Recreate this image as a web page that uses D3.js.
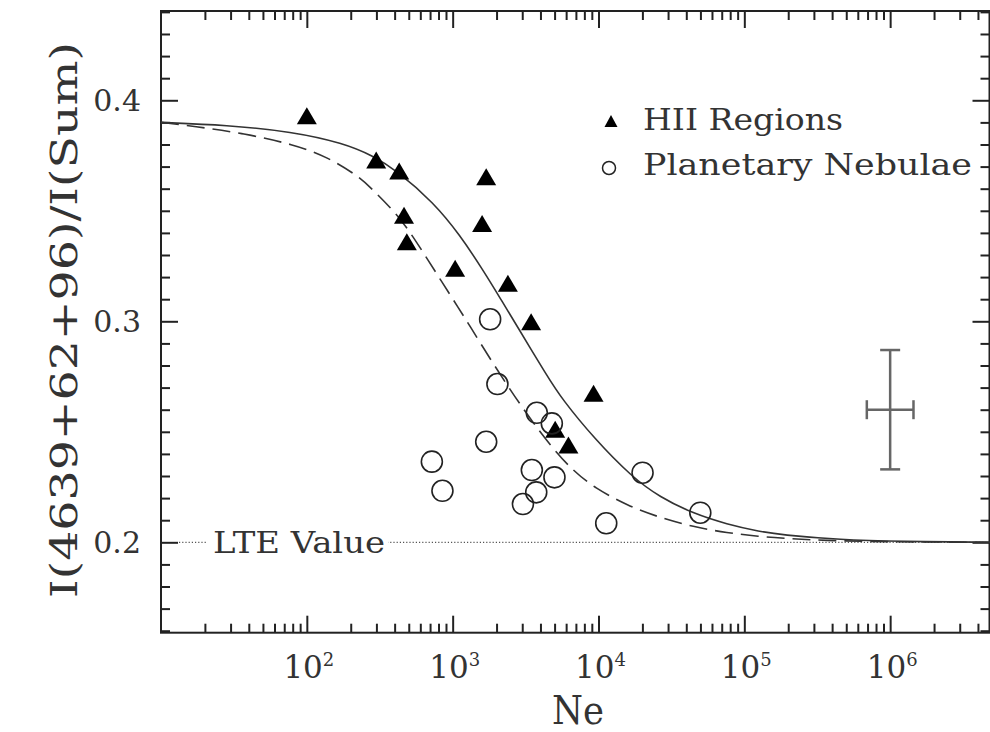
<!DOCTYPE html>
<html><head><meta charset="utf-8">
<script src="https://cdn.jsdelivr.net/npm/d3@7/dist/d3.min.js"></script>
<style>
body{margin:0;background:#fff;}
svg{display:block;}
text{font-family:"DejaVu Serif",serif;fill:#333;}
</style>
</head><body>
<svg id="chart" width="990" height="732"></svg>
<script>
// ---- data ----
const hiiNe  = [100, 299, 430, 1698, 464, 1592, 485, 1040, 2392, 3451, 9250, 5047, 6220];
const hiiVal = [0.393, 0.373, 0.368, 0.3654, 0.348, 0.3442, 0.336, 0.324, 0.3172, 0.2998, 0.2674, 0.2511, 0.244];

const pnNe  = [1807, 2027, 3776, 4786, 1698, 720, 851, 3491, 4989, 3742, 3033, 20050, 11300, 49900];
const pnVal = [0.3009, 0.2716, 0.2586, 0.2538, 0.2455, 0.2365, 0.2233, 0.2327, 0.2294, 0.2226, 0.2173, 0.2315, 0.2086, 0.2134];

const solidNe  = [10, 28.2, 79.4, 178, 282, 417, 741, 1122, 1622, 2138, 2754, 4467, 5623, 9333, 16980, 26300, 44670, 75860, 128800, 177800, 457100, 1175000, 4800000];
const solidVal = [0.3900, 0.3888, 0.3858, 0.3806, 0.3750, 0.3680, 0.3537, 0.3390, 0.3230, 0.3100, 0.2980, 0.2750, 0.2648, 0.2470, 0.2295, 0.2205, 0.2130, 0.2082, 0.2048, 0.2034, 0.2011, 0.2004, 0.2000];

const dashNe  = [10, 16.6, 37.2, 81.3, 138, 234, 288, 437, 603, 813, 1122, 1259, 1905, 3090, 4898, 6761, 9333, 15850, 26300, 44670, 75860, 128800, 177800, 346700, 1000000, 4800000];
const dashVal = [0.3900, 0.3883, 0.3850, 0.3800, 0.3745, 0.3650, 0.3590, 0.3470, 0.3330, 0.3195, 0.3050, 0.2998, 0.2805, 0.2595, 0.2420, 0.2322, 0.2248, 0.2165, 0.2112, 0.2070, 0.2043, 0.2026, 0.2019, 0.2008, 0.2002, 0.2000];

const lteValue = 0.2;
const errNe = 1e6, errVal = 0.26, errDy = 0.027, errDlog = 0.16;

const xMajorTicks = [100, 1e3, 1e4, 1e5, 1e6];
const xTickExps = ["2", "3", "4", "5", "6"];
const yMajorTicks = [0.2, 0.3, 0.4];
const yTickLabels = ["0.2", "0.3", "0.4"];
const legendLabels = ["HII Regions", "Planetary Nebulae"];
const xTitle = "Ne";
const yTitle = "I(4639+62+96)/I(Sum)";

// ---- scales ----
const L = 161, R = 989.5, T = 11, B = 632.7;
const x = d3.scaleLog().domain([10, 4.8e6]).range([L, R]);
const y = d3.scaleLinear().domain([0.1591, 0.4404]).range([B, T]);

const svg = d3.select("#chart");
const ink = "#222";

// minor ticks
const xMinor = [];
[10, 100, 1e3, 1e4, 1e5, 1e6].forEach(d => { for (let k = 2; k <= 9; k++) { const v = d * k; if (v < 4.8e6) xMinor.push(v); } });
const yMinor = d3.range(16, 45).map(k => k / 100).filter(v => !yMajorTicks.some(m => Math.abs(m - v) < 1e-6));

function styleAxis(g) {
  g.select(".domain").remove();
  g.selectAll(".tick line").attr("stroke", ink).attr("stroke-width", 2);
  g.selectAll(".tick text").remove();
}
[[d3.axisBottom, B], [d3.axisTop, T]].forEach(([ax, pos]) => {
  svg.append("g").attr("transform", `translate(0,${pos})`)
    .call(ax(x).tickValues(xMajorTicks).tickSize(-17).tickSizeOuter(0)).call(styleAxis);
  svg.append("g").attr("transform", `translate(0,${pos})`)
    .call(ax(x).tickValues(xMinor).tickSize(-9).tickSizeOuter(0)).call(styleAxis);
});
[[d3.axisLeft, L], [d3.axisRight, R]].forEach(([ax, pos]) => {
  svg.append("g").attr("transform", `translate(${pos},0)`)
    .call(ax(y).tickValues(yMajorTicks).tickSize(-17).tickSizeOuter(0)).call(styleAxis);
  svg.append("g").attr("transform", `translate(${pos},0)`)
    .call(ax(y).tickValues(yMinor).tickSize(-9).tickSizeOuter(0)).call(styleAxis);
});
svg.append("rect").attr("x", L).attr("y", T).attr("width", R - L).attr("height", B - T)
  .attr("fill", "none").attr("stroke", ink).attr("stroke-width", 2);

// tick labels
xMajorTicks.forEach((v, i) => {
  const t = svg.append("text").attr("x", x(v) + 2).attr("y", 678).attr("text-anchor", "middle").attr("font-size", 31);
  t.append("tspan").text("10");
  t.append("tspan").attr("font-size", 18).attr("dy", -12).text(xTickExps[i]);
});
yMajorTicks.forEach((v, i) => {
  svg.append("text").attr("x", 141).attr("y", y(v) + 11).attr("text-anchor", "end").attr("font-size", 30).text(yTickLabels[i]);
});

// axis titles
svg.append("text").attr("x", 552).attr("y", 724).attr("font-size", 39)
  .attr("textLength", 52).attr("lengthAdjust", "spacingAndGlyphs").text(xTitle);
svg.append("text").attr("transform", `translate(77,320) rotate(-90)`).attr("text-anchor", "middle")
  .attr("font-size", 37).attr("textLength", 556).attr("lengthAdjust", "spacingAndGlyphs").text(yTitle);

// LTE line
svg.append("line").attr("x1", L + 18).attr("x2", R).attr("y1", y(lteValue)).attr("y2", y(lteValue))
  .attr("stroke", "#555").attr("stroke-width", 1.2).attr("stroke-dasharray", "1.2,2");
svg.append("rect").attr("x", 207).attr("y", y(lteValue) - 16).attr("width", 181).attr("height", 26).attr("fill", "#fff");
svg.append("text").attr("x", 213).attr("y", y(lteValue) + 11).attr("font-size", 30)
  .attr("textLength", 172).attr("lengthAdjust", "spacingAndGlyphs").text("LTE Value");

// curves
const line = d3.line().x(d => x(d[0])).y(d => y(d[1])).curve(d3.curveBasis);
svg.append("path").datum(d3.zip(solidNe, solidVal)).attr("d", line)
  .attr("fill", "none").attr("stroke", "#333").attr("stroke-width", 1.6);
svg.append("path").datum(d3.zip(dashNe, dashVal)).attr("d", line)
  .attr("fill", "none").attr("stroke", "#333").attr("stroke-width", 1.6).attr("stroke-dasharray", "18,8");

// markers
function triPath(w, h) {
  const p = d3.path(); p.moveTo(0, -h / 2); p.lineTo(w / 2, h / 2); p.lineTo(-w / 2, h / 2); p.closePath(); return p.toString();
}
svg.append("g").selectAll("path").data(d3.zip(hiiNe, hiiVal)).join("path")
  .attr("d", triPath(20, 17)).attr("transform", d => `translate(${x(d[0])},${y(d[1])})`).attr("fill", "#000");
svg.append("g").selectAll("circle").data(d3.zip(pnNe, pnVal)).join("circle")
  .attr("cx", d => x(d[0])).attr("cy", d => y(d[1])).attr("r", 10.5)
  .attr("fill", "none").attr("stroke", "#222").attr("stroke-width", 1.6);

// error bar
const eg = svg.append("g").attr("stroke", "#666").attr("stroke-width", 2.5).attr("fill", "none");
const ex = x(errNe), ey = y(errVal);
eg.append("line").attr("x1", ex).attr("x2", ex).attr("y1", y(errVal + errDy)).attr("y2", y(errVal - errDy));
eg.append("line").attr("x1", ex - 10).attr("x2", ex + 10).attr("y1", y(errVal + errDy)).attr("y2", y(errVal + errDy));
eg.append("line").attr("x1", ex - 10).attr("x2", ex + 10).attr("y1", y(errVal - errDy)).attr("y2", y(errVal - errDy));
const xLo = x(Math.pow(10, Math.log10(errNe) - errDlog)), xHi = x(Math.pow(10, Math.log10(errNe) + errDlog));
eg.append("line").attr("x1", xLo).attr("x2", xHi).attr("y1", ey).attr("y2", ey);
eg.append("line").attr("x1", xLo).attr("x2", xLo).attr("y1", ey - 9.5).attr("y2", ey + 9.5);
eg.append("line").attr("x1", xHi).attr("x2", xHi).attr("y1", ey - 9.5).attr("y2", ey + 9.5);

// legend
const lg = svg.append("g");
lg.append("path").attr("d", triPath(13, 12)).attr("transform", "translate(611,121)").attr("fill", "#000");
lg.append("text").attr("x", 643).attr("y", 130).attr("font-size", 30)
  .attr("textLength", 200).attr("lengthAdjust", "spacingAndGlyphs").text(legendLabels[0]);
lg.append("circle").attr("cx", 609).attr("cy", 168).attr("r", 6.5).attr("fill", "none").attr("stroke", "#222").attr("stroke-width", 1.5);
lg.append("text").attr("x", 643).attr("y", 175).attr("font-size", 30)
  .attr("textLength", 329).attr("lengthAdjust", "spacingAndGlyphs").text(legendLabels[1]);
</script>
</body></html>
